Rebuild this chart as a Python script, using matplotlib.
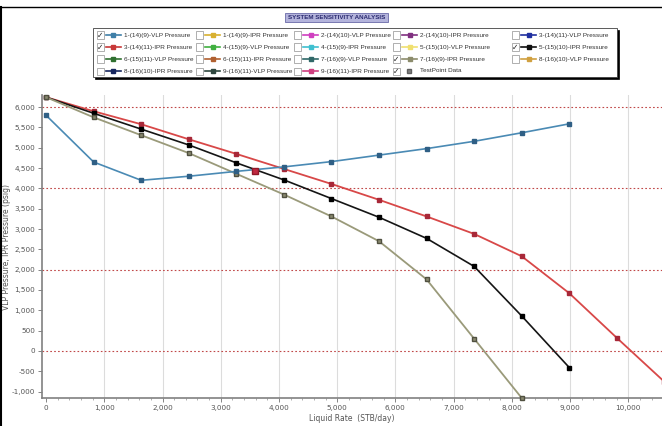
import matplotlib
matplotlib.use("Agg")
import matplotlib.pyplot as plt
from matplotlib.lines import Line2D
from matplotlib.patches import Rectangle
from matplotlib.ticker import FuncFormatter, MultipleLocator

# ---------------- data ----------------
rate = [0, 817, 1634, 2451, 3268, 4085, 4902, 5719, 6536, 7353, 8170, 8987, 9804, 10621]

vlp_1_14_9 = [5800, 4650, 4200, 4300, 4420, 4530, 4660, 4820, 4980, 5160, 5370, 5590]
ipr_3_14_11 = [6246, 5900, 5580, 5210, 4850, 4480, 4110, 3720, 3310, 2880, 2330, 1420, 320, -760]
ipr_5_15_10 = [6246, 5850, 5460, 5070, 4630, 4210, 3750, 3290, 2770, 2080, 860, -410]
ipr_7_16_9 = [6246, 5750, 5310, 4870, 4360, 3850, 3310, 2700, 1760, 300, -1160]

op_rate = [3585]
op_pressure = [4440]

x_ticks = [0, 1000, 2000, 3000, 4000, 5000, 6000, 7000, 8000, 9000, 10000]
y_ticks = [-1000, -500, 0, 500, 1000, 1500, 2000, 2500, 3000, 3500, 4000, 4500, 5000, 5500, 6000]
ref_lines = [6000, 4000, 2000, 0]

title = "SYSTEM SENSITIVITY ANALYSIS"
x_label = "Liquid Rate  (STB/day)"
y_label = "VLP Pressure, IPR Pressure (psig)"

legend_labels = [
    "1-(14)(9)-VLP Pressure", "1-(14)(9)-IPR Pressure", "2-(14)(10)-VLP Pressure",
    "2-(14)(10)-IPR Pressure", "3-(14)(11)-VLP Pressure",
    "3-(14)(11)-IPR Pressure", "4-(15)(9)-VLP Pressure", "4-(15)(9)-IPR Pressure",
    "5-(15)(10)-VLP Pressure", "5-(15)(10)-IPR Pressure",
    "6-(15)(11)-VLP Pressure", "6-(15)(11)-IPR Pressure", "7-(16)(9)-VLP Pressure",
    "7-(16)(9)-IPR Pressure", "8-(16)(10)-VLP Pressure",
    "8-(16)(10)-IPR Pressure", "9-(16)(11)-VLP Pressure", "9-(16)(11)-IPR Pressure",
    "TestPoint Data",
]
legend_checked = [True, False, False, False, False,
                  True, False, False, False, True,
                  False, False, False, True, False,
                  False, False, False, True]
legend_colors = ["#3f7fa8", "#d8b030", "#d040c0", "#803080", "#2030a0",
                 "#c83838", "#40b040", "#40c0d0", "#f0e070", "#101010",
                 "#307030", "#b06030", "#306868", "#8c8c6c", "#d0a040",
                 "#182860", "#304840", "#d04080", "#808080"]

# ---------------- figure ----------------
W, H = 662, 426
fig = plt.figure(figsize=(W / 100, H / 100), dpi=100)
fig.patch.set_facecolor("white")

def fx(px):
    return px / W

def fy(py):
    return 1 - py / H

ax = fig.add_axes([fx(42), fy(398), fx(662) - fx(42), fy(95) - fy(398)])
ax.set_xlim(-70, 10580)
ax.set_ylim(-1160, 6300)

for yv in ref_lines:
    ax.axhline(yv, color="#c04848", lw=0.8, ls=(0, (1.5, 2.0)), zorder=1)
for xv in x_ticks[1:]:
    ax.axvline(xv, color="#dcdcdc", lw=0.8, zorder=0)

n = len(vlp_1_14_9)
ax.plot(rate[:n], vlp_1_14_9, color="#4a8ab4", lw=1.2, marker="s", ms=3.2,
        mfc="#2f5f85", mec="#2f5f85", zorder=4)
ax.plot(rate[:len(ipr_3_14_11)], ipr_3_14_11, color="#d84848", lw=1.3, marker="s", ms=3.2,
        mfc="#a82838", mec="#a82838", zorder=3)
ax.plot(rate[:len(ipr_5_15_10)], ipr_5_15_10, color="#151515", lw=1.2, marker="s", ms=3.2,
        mfc="#000000", mec="#000000", zorder=3)
ax.plot(rate[:len(ipr_7_16_9)], ipr_7_16_9, color="#9a9a7a", lw=1.3, marker="s", ms=3.4,
        mfc="#8a8a70", mec="#505040", zorder=3, clip_on=False)
ax.plot(op_rate, op_pressure, ls="none", marker="s", ms=5, mfc="#c02840", mec="#901828", zorder=5)

ax.set_xticks(x_ticks)
ax.set_yticks(y_ticks)
ax.xaxis.set_minor_locator(MultipleLocator(200))
fmt = FuncFormatter(lambda v, p: f"{int(v):,}")
ax.xaxis.set_major_formatter(fmt)
ax.yaxis.set_major_formatter(fmt)
ax.tick_params(axis="both", labelsize=5.2, colors="#707070", labelcolor="#555555",
               length=3, width=0.6, pad=2)
ax.tick_params(axis="x", which="minor", length=1.5, width=0.5, colors="#909090")
for s in ["top", "right"]:
    ax.spines[s].set_visible(False)
for s in ["left", "bottom"]:
    ax.spines[s].set_color("#808080")
    ax.spines[s].set_linewidth(1.2)

ax.set_xlabel(x_label, fontsize=5.5, color="#555555", labelpad=2)
ax.set_ylabel(y_label, fontsize=5.5, color="#555555")
ax.yaxis.set_label_coords(-31 / 620, 0.5)

# frame lines
fig.add_artist(Line2D([0, 1], [fy(7), fy(7)], color="black", lw=1.0))
fig.add_artist(Line2D([fx(1), fx(1)], [0, fy(7)], color="black", lw=1.5))

# title box
fig.add_artist(Rectangle((fx(285), fy(22)), fx(388) - fx(285), fy(13) - fy(22),
                         facecolor="#b4b4dc", edgecolor="#6a6aa8", lw=0.6))
fig.text(fx(336.5), fy(17.5), title, fontsize=4.5, color="#2a2a70",
         ha="center", va="center", fontweight="bold", family="Liberation Sans")

# legend box with shadow
lx0, lx1, ly0, ly1 = 93, 617, 28, 77
fig.add_artist(Rectangle((fx(lx0 + 2), fy(ly1 + 2)), fx(lx1) - fx(lx0), fy(ly0) - fy(ly1),
                         facecolor="black", edgecolor="black", lw=0.5))
fig.add_artist(Rectangle((fx(lx0), fy(ly1)), fx(lx1) - fx(lx0), fy(ly0) - fy(ly1),
                         facecolor="white", edgecolor="#404040", lw=0.6))

col_x = [97, 196, 294, 393, 512]
row_y = [35, 47, 59, 71]
for i, lab in enumerate(legend_labels):
    r, c = divmod(i, 5)
    x0 = col_x[c]
    y0 = row_y[r]
    fig.add_artist(Rectangle((fx(x0), fy(y0 + 3.5)), fx(7), 7 / H,
                             facecolor="white", edgecolor="#909090", lw=0.5))
    if legend_checked[i]:
        fig.text(fx(x0 + 3.5), fy(y0), "\u2713", fontsize=5.5, color="#202020",
                 ha="center", va="center")
    col = legend_colors[i]
    if lab == "TestPoint Data":
        fig.add_artist(Line2D([fx(x0 + 16)], [fy(y0)], marker="s", ms=3.5,
                              mfc=col, mec="#606060", ls="none"))
    else:
        fig.add_artist(Line2D([fx(x0 + 9), fx(x0 + 24)], [fy(y0), fy(y0)],
                              color=col, lw=1.2, marker=None))
        fig.add_artist(Line2D([fx(x0 + 16.5)], [fy(y0)], marker="s", ms=3.2,
                              mfc=col, mec=col, ls="none"))
    fig.text(fx(x0 + 27), fy(y0), lab, fontsize=4.6, color="#333333",
             ha="left", va="center", family="Liberation Sans")

fig.savefig("out.png", dpi=100)
